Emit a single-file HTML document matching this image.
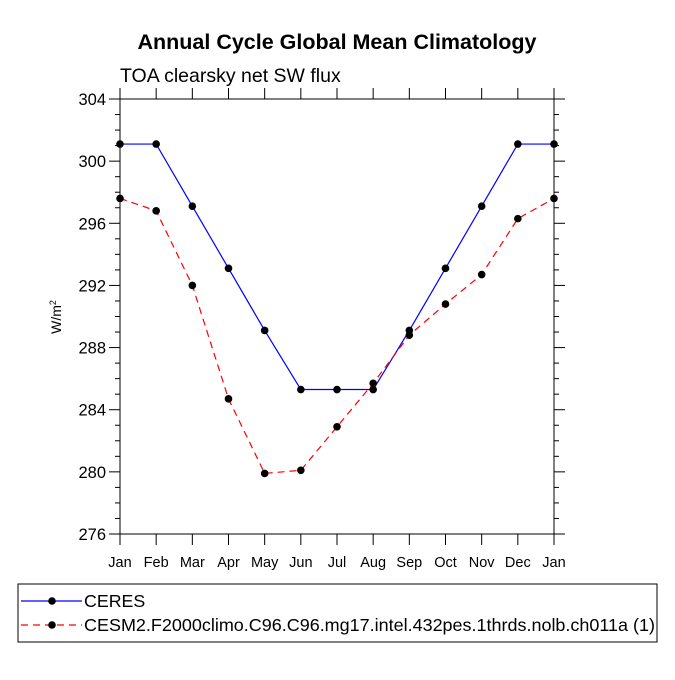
<!DOCTYPE html>
<html><head><meta charset="utf-8"><style>
body{margin:0;background:#fff;}
svg{font-family:"Liberation Sans",sans-serif;}
</style></head><body>
<svg id="chart" width="675" height="675">
<rect width="675" height="675" fill="#fff"/>
<text x="337" y="49" text-anchor="middle" font-size="21.5" font-weight="bold">Annual Cycle Global Mean Climatology</text>
<text x="120" y="82" font-size="19.5">TOA clearsky net SW flux</text>
<text transform="translate(61,317) rotate(-90)" text-anchor="middle" font-size="14">W/m<tspan font-size="9" dy="-5">2</tspan></text>
<g id="axes"></g>
<g id="series"></g>
<rect x="18" y="584" width="639" height="58" fill="none" stroke="#000" stroke-width="1"/>
<g>
<line x1="21" y1="601" x2="82" y2="601" stroke="#0000ff" stroke-width="1.2"/>
<circle cx="52" cy="601" r="3.8" fill="#000"/>
<text x="84" y="607" font-size="17.8">CERES</text></g>
<g>
<line x1="21" y1="625" x2="82" y2="625" stroke="#ff0000" stroke-width="1.2" stroke-dasharray="7,5"/>
<circle cx="52" cy="625" r="3.8" fill="#000"/>
<text x="84" y="631" font-size="17.8" textLength="571" lengthAdjust="spacingAndGlyphs">CESM2.F2000climo.C96.C96.mg17.intel.432pes.1thrds.nolb.ch011a (1)</text></g>
</svg>
<script>
const months=["Jan","Feb","Mar","Apr","May","Jun","Jul","Aug","Sep","Oct","Nov","Dec","Jan"];
const ceres=[301.1,301.1,297.1,293.1,289.1,285.3,285.3,285.3,289.1,293.1,297.1,301.1,301.1];
const cesm=[297.6,296.8,292.0,284.7,279.9,280.1,282.9,285.7,288.8,290.8,292.7,296.3,297.6];
const yTicks=[276,280,284,288,292,296,300,304];
const X0=120,X1=554,Y0=534,Y1=99,YMIN=276,YMAX=304;
const xs=i=>X0+(X1-X0)*i/(months.length-1);
const ys=v=>Y0-(Y0-Y1)*(v-YMIN)/(YMAX-YMIN);
const NS="http://www.w3.org/2000/svg";
function mk(t,a,p){const e=document.createElementNS(NS,t);for(const k in a)e.setAttribute(k,a[k]);p.appendChild(e);return e;}
const ax=document.getElementById('axes');
const frame=mk('rect',{x:X0,y:Y1,width:X1-X0,height:Y0-Y1,fill:'none',stroke:'#000','stroke-width':1},ax);


for(let v=YMIN;v<=YMAX;v++){const y=ys(v);const maj=(v-YMIN)%4===0;const L=maj?11:5;
mk('line',{x1:X0-L,y1:y,x2:X0,y2:y,stroke:'#000'},ax);mk('line',{x1:X1,y1:y,x2:X1+L,y2:y,stroke:'#000'},ax);}
yTicks.forEach(v=>{const t=mk('text',{x:X0-14,y:ys(v)+6,'text-anchor':'end','font-size':16.5},ax);t.textContent=v;

});
months.forEach((m,i)=>{const x=xs(i);mk('line',{x1:x,y1:Y0,x2:x,y2:Y0+11,stroke:'#000'},ax);mk('line',{x1:x,y1:Y1-11,x2:x,y2:Y1,stroke:'#000'},ax);
const t=mk('text',{x:x,y:567,'text-anchor':'middle','font-size':14.5},ax);t.textContent=m;

});
const sg=document.getElementById('series');
function draw(vals,color,dash,name){const g=mk('g',{},sg);


const a={points:vals.map((v,i)=>xs(i)+','+ys(v)).join(' '),fill:'none',stroke:color,'stroke-width':1.2};if(dash)a['stroke-dasharray']=dash;mk('polyline',a,g);
vals.forEach((v,i)=>{const c=mk('circle',{cx:xs(i),cy:ys(v),r:3.8,fill:'#000'},g);

});}
draw(ceres,'#0000ff',null,'series-ceres');
draw(cesm,'#ff0000','7,5','series-cesm2');
</script>
</body></html>
